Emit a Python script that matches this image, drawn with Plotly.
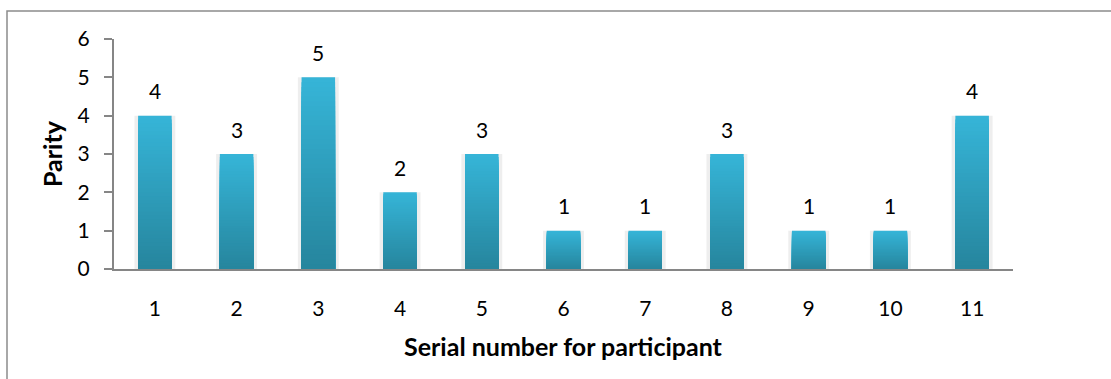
import plotly.graph_objects as go

# Parity recorded for each participant
participants = [str(i) for i in range(1, 12)]
parity = [4, 3, 5, 2, 3, 1, 1, 3, 1, 1, 4]
y_ticks = [0, 1, 2, 3, 4, 5, 6]

W, H = 1111, 379
L, R, T, B = 114, 98, 39, 110
plot_w, plot_h = W - L - R, H - T - B

FONT = "Lato, 'Open Sans', sans-serif"
AXIS_GRAY = "#868686"
TOP_RGB = (0x36, 0xb5, 0xd8)
BOTTOM_RGB = (0x26, 0x85, 0x9d)

xpos = list(range(len(participants)))

fig = go.Figure()

# soft drop shadow behind each bar
fig.add_trace(go.Bar(
    x=xpos, y=parity, width=0.5,
    marker=dict(color="rgba(205,205,205,0.35)", line=dict(width=0)),
    hoverinfo="skip", showlegend=False,
))

# vertical gradient: nested bars from the base, tallest (lightest) drawn first,
# each shorter one a shade darker, so only a thin band of each stays visible
N_BANDS = 40
for k in range(N_BANDS):
    frac = (N_BANDS - k) / N_BANDS
    t = (N_BANDS - k - 0.5) / N_BANDS
    r, g, b = (round(BOTTOM_RGB[i] + (TOP_RGB[i] - BOTTOM_RGB[i]) * t) for i in range(3))
    fig.add_trace(go.Bar(
        x=xpos,
        y=[v * frac for v in parity],
        width=0.41,
        marker=dict(color=f"rgb({r},{g},{b})", line=dict(width=0)),
        hoverinfo="skip", showlegend=False,
    ))

# value labels above the bars
for xi, v in zip(xpos, parity):
    fig.add_annotation(x=xi, y=v, text=str(v), showarrow=False, yshift=25,
                       yanchor="middle",
                       font=dict(family=FONT, size=21, color="#000000"))

# axis titles
fig.add_annotation(xref="paper", yref="paper", x=0.5,
                   y=-(346 - T - plot_h) / plot_h, yanchor="middle",
                   text="<b>Serial number for participant</b>", showarrow=False,
                   font=dict(family=FONT, size=25, color="#000000"))
fig.add_annotation(xref="paper", yref="paper", x=(52 - L) / plot_w, y=0.5,
                   xanchor="center", yanchor="middle",
                   text="<b>Parity</b>", textangle=-90, showarrow=False,
                   font=dict(family=FONT, size=25, color="#000000"))

# chart frame
fig.add_shape(type="rect", xref="paper", yref="paper",
              x0=(7 - L) / plot_w, x1=(W + 5 - L) / plot_w,
              y0=-(H + 5 - T - plot_h) / plot_h, y1=(plot_h + T - 11) / plot_h,
              line=dict(color="#8c8c8c", width=1.5), layer="below")

fig.update_layout(
    width=W, height=H,
    margin=dict(l=L, r=R, t=T, b=B),
    paper_bgcolor="white", plot_bgcolor="white",
    barmode="overlay",
    font=dict(family=FONT, size=21, color="#000000"),
    showlegend=False,
)
fig.update_xaxes(
    range=[-0.5, len(participants) - 0.5],
    tickvals=xpos, ticktext=participants,
    showgrid=False, zeroline=False,
    showline=True, linecolor=AXIS_GRAY, linewidth=2,
    ticks="", ticklabelstandoff=20,
    tickfont=dict(family=FONT, size=21, color="#000000"),
)
fig.update_yaxes(
    range=[0, 6], tickvals=y_ticks, showgrid=False, zeroline=False,
    showline=True, linecolor=AXIS_GRAY, linewidth=2,
    ticks="outside", ticklen=8, tickcolor=AXIS_GRAY, tickwidth=1.5,
    ticklabelstandoff=10,
    tickfont=dict(family=FONT, size=21, color="#000000"),
)

fig.write_html("out.html")
